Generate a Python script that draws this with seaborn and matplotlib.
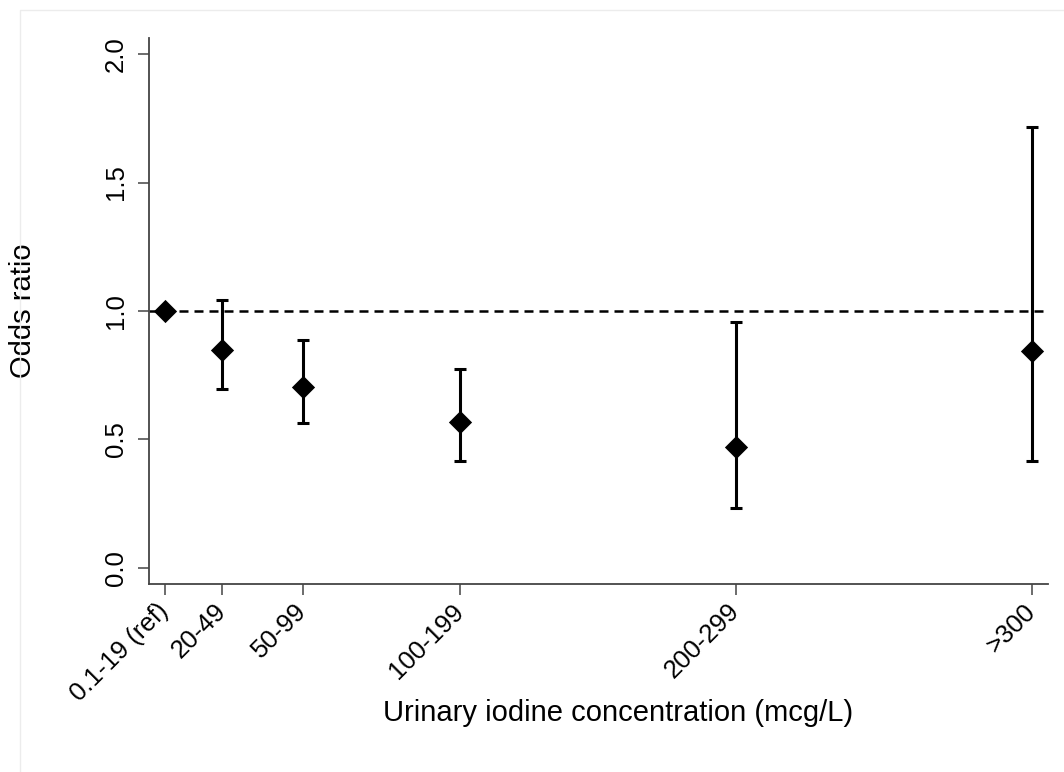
import numpy as np
import pandas as pd
import matplotlib
matplotlib.use("Agg")
import matplotlib.pyplot as plt
from matplotlib.patches import Rectangle
import seaborn as sns

# data
categories = ["0.1-19 (ref)", "20-49", "50-99", "100-199", "200-299", ">300"]
x_pos = [6.4, 29.4, 61.7, 124.6, 234.9, 353.4]
odds = [1.0, 0.848, 0.705, 0.566, 0.471, 0.845]
ci_low = [np.nan, 0.695, 0.565, 0.415, 0.233, 0.415]
ci_high = [np.nan, 1.043, 0.886, 0.773, 0.956, 1.715]
y_ticks = [0.0, 0.5, 1.0, 1.5, 2.0]

df = pd.DataFrame({"cat": categories, "x": x_pos, "or": odds,
                   "lo": ci_low, "hi": ci_high})

sns.set_style("ticks")
plt.rcParams["font.family"] = ["Liberation Sans", "DejaVu Sans"]
plt.rcParams["text.color"] = "black"
plt.rcParams["axes.labelcolor"] = "black"
plt.rcParams["xtick.color"] = "black"
plt.rcParams["ytick.color"] = "black"

fig = plt.figure(figsize=(10.64, 7.72), dpi=100)
ax = fig.add_axes([148.7 / 1064, 1 - 584 / 772, (1048 - 148.7) / 1064, (584 - 38) / 772])

# faint outer frame like the original graph region
fig.add_artist(Rectangle((20 / 1064, -0.1), 2, 1.1 - 10 / 772,
                         transform=fig.transFigure, fill=False,
                         edgecolor="#ececec", lw=1.0))

ax.axhline(1.0, color="black", lw=1.8, dashes=(3.6, 2.4), zorder=1)

ci = df.dropna()
ax.errorbar(ci["x"], ci["or"], yerr=[ci["or"] - ci["lo"], ci["hi"] - ci["or"]],
            fmt="none", ecolor="black", elinewidth=2.2, capsize=4.5,
            capthick=2.2, zorder=2)
sns.scatterplot(data=df, x="x", y="or", marker="D", s=140, color="black",
                edgecolor="black", linewidth=0, ax=ax, zorder=3)

ax.set_xlim(0, (1048 - 148.7) / 2.5)
ax.set_ylim(-0.064, 2.063)
ax.set_xticks(x_pos)
ax.set_xticklabels(categories, rotation=45, ha="right", va="center",
                   rotation_mode="anchor", fontsize=18.5)
ax.set_yticks(y_ticks)
ax.set_yticklabels([f"{v:.1f}" for v in y_ticks], rotation=90, va="center",
                   fontsize=18.5)

ax.set_xlabel("Urinary iodine concentration (mcg/L)", fontsize=21)
ax.set_ylabel("Odds ratio", fontsize=21)
ax.xaxis.set_label_coords(0.522, -0.21)
ax.yaxis.set_label_coords(-0.124, 0.5)

for side in ["top", "right"]:
    ax.spines[side].set_visible(False)
for side in ["left", "bottom"]:
    ax.spines[side].set_color("#444444")
    ax.spines[side].set_linewidth(1.3)
ax.tick_params(axis="both", length=8, width=1.1, color="#444444")
ax.tick_params(axis="y", pad=7)
ax.tick_params(axis="x", pad=9)

fig.savefig("out.png", dpi=100)
plt.close(fig)
